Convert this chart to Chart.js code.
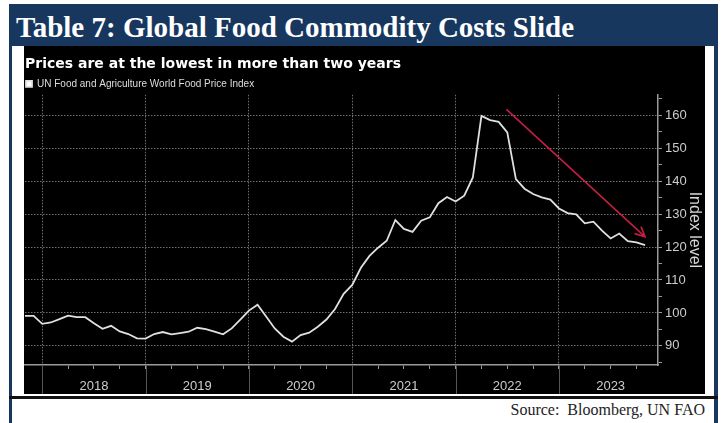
<!DOCTYPE html>
<html>
<head>
<meta charset="utf-8">
<script src="https://cdn.jsdelivr.net/npm/chart.js@4.4.0/dist/chart.umd.min.js"></script>
<style>
  body { margin: 0; background: #fff; }
  #slide { position: relative; width: 723px; height: 423px; overflow: hidden; background: #fff; }
  #header { position: absolute; left: 9px; top: 4px; width: 709px; height: 42px; background: #17375e;
            color: #fff; font: bold 29px "Liberation Serif", serif; line-height: 46px; padding-left: 7px; box-sizing: border-box; }
  .rule { position: absolute; background: #17375e; }
  #panel { position: absolute; left: 24px; top: 46px; width: 681px; height: 348px; background: #000; }
  #source { position: absolute; right: 18px; top: 401px; font: 16px "Liberation Serif", serif; color: #222; white-space: pre; }
</style>
</head>
<body>
<div id="slide">
  <div id="header">Table 7: Global Food Commodity Costs Slide</div>
  <div class="rule" style="left:9px;top:46px;width:3px;height:377px"></div>
  <div class="rule" style="left:714px;top:46px;width:4px;height:377px"></div>
  <div class="rule" style="left:9px;top:396px;width:709px;height:3px;background:#111"></div>
  <div id="panel"><canvas id="foodChart" width="681" height="348"></canvas></div>
  <div id="source">Source:  Bloomberg, UN FAO</div>
</div>
<script>
// FAO food price index, monthly (index level)
var fao2017 = [99.1, 99.1, 96.7];   // Oct - Dec
var fao2018 = [97.1, 98.1, 99.2, 98.7, 98.7, 96.9, 95.2, 96.1, 94.4, 93.6, 92.3, 92.2];
var fao2019 = [93.6, 94.2, 93.5, 93.9, 94.3, 95.5, 95.1, 94.3, 93.5, 95.3, 98.0, 100.7];
var fao2020 = [102.5, 98.9, 95.3, 92.8, 91.3, 93.3, 94.0, 95.8, 98.0, 101.2, 105.8, 108.5];
var fao2021 = [113.7, 117.3, 119.8, 121.9, 128.2, 125.5, 124.6, 128.0, 129.0, 133.3, 135.2, 133.8];
var fao2022 = [135.6, 141.1, 159.8, 158.5, 158.0, 154.8, 140.6, 137.7, 136.1, 135.1, 134.4, 131.7];
var fao2023 = [130.3, 129.9, 127.2, 127.7, 125.0, 122.6, 124.1, 121.8, 121.4, 120.6];  // Jan - Oct

var yearLabels = ['2018', '2019', '2020', '2021', '2022', '2023'];
var indexTicks = [90, 100, 110, 120, 130, 140, 150, 160];

// trend arrow, in months since Jan 2018 / index level
var arrowFrom = { month: 53.9, value: 161.8 };
var arrowTo = { month: 70, value: 123.1 };

// x = months since start of 2018, each value plotted at its month end
var points = [];
function addYear(year, firstMonth, values) {
  values.forEach(function (v, i) {
    points.push({ x: (year - 2018) * 12 + firstMonth + i, y: v });
  });
}
addYear(2017, 10, fao2017);
addYear(2018, 1, fao2018);
addYear(2019, 1, fao2019);
addYear(2020, 1, fao2020);
addYear(2021, 1, fao2021);
addYear(2022, 1, fao2022);
addYear(2023, 1, fao2023);

var quarterTicks = [];
for (var q = 0; q <= 69; q += 3) quarterTicks.push(q);
var halfSteps = [];
for (var h = 85; h <= 165; h += 5) halfSteps.push(h);

// year separators running down through the label band
var yearDividers = {
  id: 'yearDividers',
  afterDraw: function (chart) {
    var x = chart.scales.x, ctx = chart.ctx;
    ctx.save();
    ctx.strokeStyle = '#555';
    ctx.lineWidth = 1;
    for (var m = 0; m < x.max; m += 12) {
      var px = Math.round(x.getPixelForValue(m)) + 0.5;
      ctx.beginPath();
      ctx.moveTo(px, x.top);
      ctx.lineTo(px, chart.height);
      ctx.stroke();
    }
    ctx.restore();
  }
};

var trendArrow = {
  id: 'trendArrow',
  afterDatasetsDraw: function (chart) {
    var xs = chart.scales.x, ys = chart.scales.y, ctx = chart.ctx;
    var x0 = xs.getPixelForValue(arrowFrom.month), y0 = ys.getPixelForValue(arrowFrom.value);
    var x1 = xs.getPixelForValue(arrowTo.month), y1 = ys.getPixelForValue(arrowTo.value);
    var ang = Math.atan2(y1 - y0, x1 - x0);
    ctx.save();
    ctx.strokeStyle = '#c41e43';
    ctx.lineWidth = 1.6;
    ctx.beginPath();
    ctx.moveTo(x0, y0);
    ctx.lineTo(x1, y1);
    ctx.moveTo(x1 - 11 * Math.cos(ang - 0.45), y1 - 11 * Math.sin(ang - 0.45));
    ctx.lineTo(x1, y1);
    ctx.lineTo(x1 - 11 * Math.cos(ang + 0.45), y1 - 11 * Math.sin(ang + 0.45));
    ctx.stroke();
    ctx.restore();
  }
};

var ctx = document.getElementById('foodChart').getContext('2d');
new Chart(ctx, {
  type: 'line',
  data: {
    datasets: [{
      label: 'UN Food and Agriculture World Food Price Index',
      data: points,
      borderColor: '#e0e0e0',
      backgroundColor: '#ffffff',
      borderWidth: 1.8,
      pointRadius: 0,
      tension: 0
    }]
  },
  options: {
    responsive: false,
    animation: false,
    layout: { padding: { left: 1, right: 0, top: 0, bottom: 0 } },
    plugins: {
      title: {
        display: true,
        text: 'Prices are at the lowest in more than two years',
        align: 'start',
        color: '#ffffff',
        font: { family: 'DejaVu Sans', size: 14, weight: 'bold' },
        padding: { top: 10, bottom: 5 }
      },
      legend: {
        align: 'start',
        maxHeight: 17,
        labels: {
          boxWidth: 6,
          boxHeight: 6,
          color: '#dddddd',
          font: { family: 'Liberation Sans', size: 10 },
          padding: 1
        }
      },
      tooltip: { enabled: false }
    },
    scales: {
      x: {
        type: 'linear',
        min: -2,
        max: 71.5,
        afterBuildTicks: function (s) {
          s.ticks = quarterTicks.map(function (v) { return { value: v }; });
        },
        afterFit: function (s) { s.height = 29; s.paddingLeft = 0; s.paddingRight = 0; },
        grid: {
          color: function (c) { return c.tick && c.tick.value % 12 === 0 ? '#707070' : 'transparent'; },
          tickColor: '#999',
          tickLength: 4
        },
        border: { color: '#9a9a9a', width: 1.5, dash: [1.5, 1.5] },
        ticks: {
          color: '#cccccc',
          font: { family: 'Liberation Sans', size: 13 },
          padding: 10,
          maxRotation: 0,
          autoSkip: false,
          callback: function (v) { return v % 12 === 6 ? yearLabels[(v - 6) / 12] : ''; }
        }
      },
      y: {
        position: 'right',
        min: 84.2,
        max: 166.2,
        afterBuildTicks: function (s) {
          s.ticks = halfSteps.map(function (v) { return { value: v }; });
        },
        afterFit: function (s) { s.width = 47; s.paddingTop = 0; s.paddingBottom = 0; },
        grid: {
          color: function (c) { return c.tick && indexTicks.indexOf(c.tick.value) >= 0 ? '#707070' : 'transparent'; },
          tickColor: '#999',
          tickLength: 4
        },
        border: { color: '#9a9a9a', width: 1.5, dash: [1.5, 1.5] },
        ticks: {
          color: '#cccccc',
          font: { family: 'Liberation Sans', size: 13 },
          padding: 3,
          autoSkip: false,
          callback: function (v) { return indexTicks.indexOf(v) >= 0 ? String(v) : ''; }
        },
        title: {
          display: true,
          text: 'Index level',
          color: '#d8d8d8',
          font: { family: 'Liberation Sans', size: 16 },
          padding: { top: 1, bottom: 0 }
        }
      }
    }
  },
  plugins: [yearDividers, trendArrow]
});
</script>
</body>
</html>
